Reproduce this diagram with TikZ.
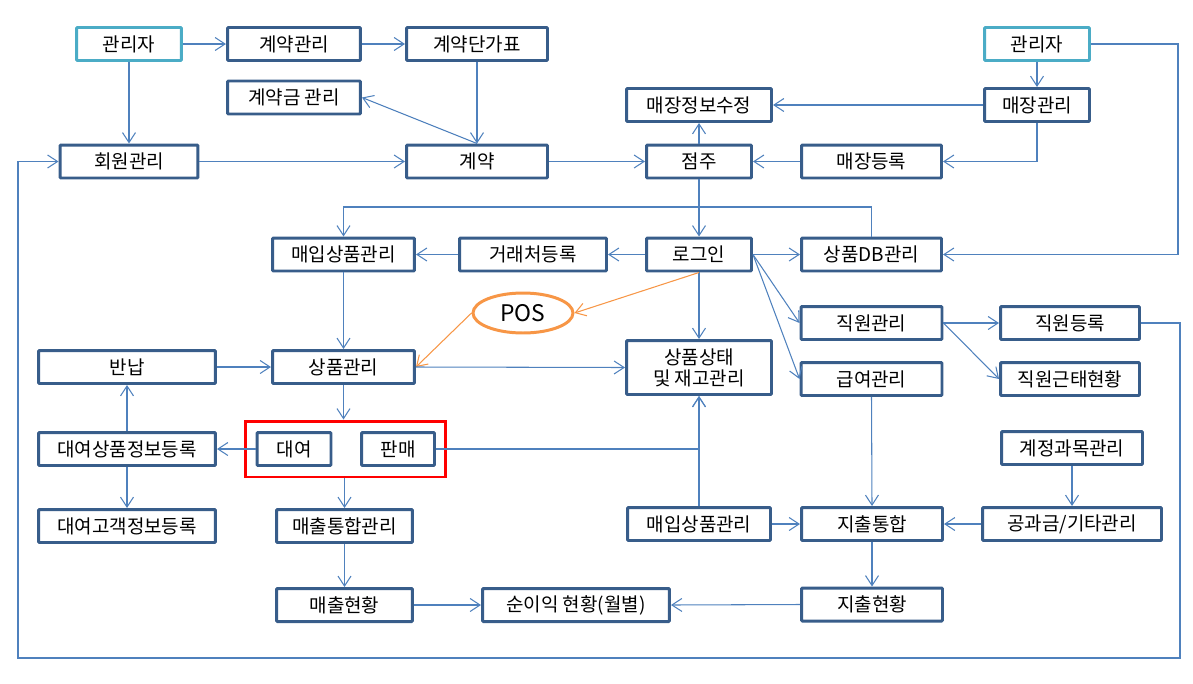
\documentclass[tikz,border=0pt]{standalone}
\usepackage{fontspec}
\setmainfont{Noto Sans CJK KR}
\usetikzlibrary{arrows.meta,shapes.geometric,fit}

\definecolor{boxblue}{HTML}{385D8A}
\definecolor{linkblue}{HTML}{4F81BD}
\definecolor{admincyan}{HTML}{4BACC6}
\definecolor{posorange}{HTML}{F79646}

\begin{document}
\begin{tikzpicture}[
    x=0.02cm, y=-0.02cm,
    font=\fontsize{10.8}{12}\selectfont,
    box/.style={draw=boxblue, line width=1.7pt, rounded corners=0.6pt, fill=white, minimum height=0.66cm, inner sep=1pt},
    adminbox/.style={box, draw=admincyan},
    posnode/.style={draw=posorange, ellipse, line width=1.7pt, fill=white, minimum width=2cm, minimum height=0.8cm, inner sep=0pt, font=\fontsize{13}{15}\selectfont},
    salesframe/.style={draw=red, line width=1.7pt, inner sep=0.2cm},
    link/.style={-{Straight Barb[length=2mm,width=2.6mm]}, linkblue, line width=0.6pt},
    poslink/.style={link, posorange}
  ]
    \useasboundingbox (0,0) rectangle (1193,683);

    % contract side
    \node[adminbox, minimum width=2.10cm] (adminL) at (129,44) {관리자};
    \node[box, minimum width=2.66cm] (ctrMgmt) at (294,44) {계약관리};
    \node[box, minimum width=2.82cm] (ctrPrice) at (477,44) {계약단가표};
    \node[box, minimum width=2.66cm] (deposit) at (294,97.5) {계약금 관리};
    \node[box, minimum width=2.76cm] (member) at (129,161.5) {회원관리};
    \node[box, minimum width=2.82cm] (contract) at (477,161.5) {계약};

    % store side
    \node[adminbox, minimum width=2.10cm] (adminR) at (1037,44) {관리자};
    \node[box, minimum width=2.10cm] (storeMgmt) at (1037,105) {매장관리};
    \node[box, minimum width=2.90cm] (storeEdit) at (699,105) {매장정보수정};
    \node[box, minimum width=2.10cm] (owner) at (699,161.5) {점주};
    \node[box, minimum width=2.80cm] (storeReg) at (871.5,161.5) {매장등록};

    % login row
    \node[box, minimum width=2.84cm] (buyTop) at (343.5,254.5) {매입상품관리};
    \node[box, minimum width=2.94cm] (vendor) at (533,254.5) {거래처등록};
    \node[box, minimum width=2.10cm] (login) at (699,254.5) {로그인};
    \node[box, minimum width=2.80cm] (prodDB) at (871.5,254.5) {상품DB관리};
    \node[posnode] (pos) at (523,313) {POS};

    % products and staff
    \node[box, minimum width=3.54cm] (returnN) at (127,367) {반납};
    \node[box, minimum width=2.84cm] (product) at (343.5,367) {상품관리};
    \node[box, minimum width=2.90cm, minimum height=1.08cm, align=center] (stock) at (699,367.5) {상품상태\\및 재고관리};
    \node[box, minimum width=2.82cm] (staff) at (871.5,323) {직원관리};
    \node[box, minimum width=2.78cm] (staffReg) at (1070,323) {직원등록};
    \node[box, minimum width=2.82cm] (pay) at (871.5,379) {급여관리};
    \node[box, minimum width=2.78cm] (attend) at (1070,379) {직원근태현황};

    % rental and sales
    \node[box, minimum width=3.54cm] (rentInfo) at (127,449) {대여상품정보등록};
    \node[box, minimum width=1.48cm] (rent) at (294,449) {대여};
    \node[box, minimum width=1.46cm] (sale) at (398,449) {판매};
    \node[salesframe, fit=(rent)(sale)] (rentSale) {};
    \node[box, minimum width=2.82cm] (account) at (1072,448) {계정과목관리};
    \node[box, minimum width=3.54cm] (rentCust) at (127,526) {대여고객정보등록};
    \node[box, minimum width=2.72cm] (salesInt) at (344.5,526) {매출통합관리};
    \node[box, minimum width=2.86cm] (buyBot) at (699,524) {매입상품관리};
    \node[box, minimum width=2.82cm] (expInt) at (872,524) {지출통합};
    \node[box, minimum width=3.58cm] (utility) at (1072,524) {공과금/기타관리};
    \node[box, minimum width=2.72cm] (salesNow) at (344.5,605) {매출현황};
    \node[box, minimum width=3.74cm] (profit) at (576,605) {순이익 현황(월별)};
    \node[box, minimum width=2.82cm] (expNow) at (872,604.5) {지출현황};

    \coordinate (rightBus) at (1178,44);
    \coordinate (dbBus) at (871.5,207);
    \coordinate (loopSE) at (1180,658);
    \coordinate (loopSW) at (18,658);

    \draw[link] (adminL.east) -- (ctrMgmt.west);
    \draw[link] (ctrMgmt.east) -- (ctrPrice.west);
    \draw[link] (ctrPrice.south) -- (contract.north);
    \draw[link] (contract.north) -- (deposit.east);
    \draw[link] (adminL.south) -- (member.north);
    \draw[link] (member.east) -- (contract.west);
    \draw[link] (contract.east) -- (owner.west);

    \draw[link] (adminR.south) -- (storeMgmt.north);
    \draw[link] (storeMgmt.west) -- (storeEdit.east);
    \draw[link] (storeMgmt.south) |- (storeReg.east);
    \draw[link] (storeReg.west) -- (owner.east);
    \draw[link] (owner.north) -- (storeEdit.south);
    \draw[link] (owner.south) -- (login.north);
    \draw[link] (adminR.east) -- (rightBus) |- (prodDB.east);
    \draw[link] (prodDB.north) -- (dbBus) -| (buyTop.north);

    \draw[link] (login.west) -- (vendor.east);
    \draw[link] (vendor.west) -- (buyTop.east);
    \draw[link] (login.east) -- (prodDB.west);
    \draw[link] (login.east) -- (staff.west);
    \draw[link] (login.east) -- (pay.west);
    \draw[link] (login.south) -- (stock.north);
    \draw[poslink] (login.south) -- (pos.east);
    \draw[poslink] (pos.west) -- (product.east);

    \draw[link] (buyTop.south) -- (product.north);
    \draw[link] (returnN.east) -- (product.west);
    \draw[link] (product.east) -- (stock.west);
    \draw[link] (product.south) -- (product.south |- rentSale.north);
    \draw[link] (rent.west) -- (rentInfo.east);
    \draw[link] (rentInfo.north) -- (returnN.south);
    \draw[link] (rentInfo.south) -- (rentCust.north);
    \draw[link] (sale.east) -| (stock.south);
    \draw[link] (buyBot.north) -- (stock.south);

    \draw[link] (staff.east) -- (staffReg.west);
    \draw[link] (staff.east) -- (attend.west);
    \draw[link] (pay.south) -- (expInt.north);
    \draw[link] (account.south) -- (utility.north);
    \draw[link] (utility.west) -- (expInt.east);
    \draw[link] (buyBot.east) -- (expInt.west);
    \draw[link] (expInt.south) -- (expNow.north);

    \draw[link] (salesInt.north |- rentSale.south) -- (salesInt.north);
    \draw[link] (salesInt.south) -- (salesNow.north);
    \draw[link] (salesNow.east) -- (profit.west);
    \draw[link] (expNow.west) -- (profit.east);

    \draw[link] (staffReg.east) -| (loopSE) -- (loopSW) |- (member.west);
  \end{tikzpicture}
\end{document}
